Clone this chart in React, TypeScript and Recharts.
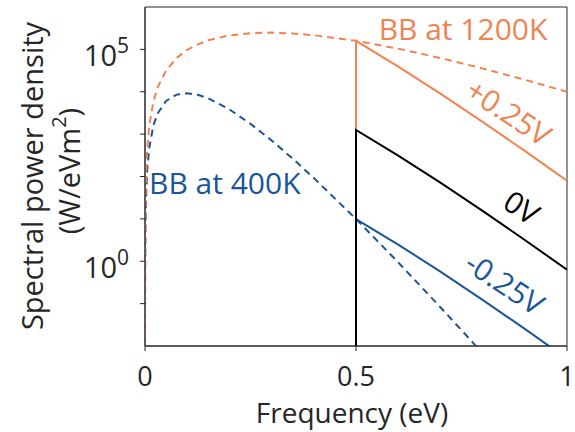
import React from 'react';
import { LineChart, Line, XAxis, YAxis, ReferenceArea } from 'recharts';

// photon energy (eV) and spectral power density (W/eVm^2)
const bbEnergy = [0.00003, 0.0001, 0.0003, 0.001, 0.002, 0.005, 0.01, 0.02, 0.03, 0.05, 0.075, 0.1, 0.125, 0.15, 0.2, 0.25, 0.3, 0.35, 0.4, 0.5, 0.6, 0.7, 0.75, 0.8, 0.9, 1.0];
const bb1200 = [0.0147, 0.164, 1.47, 16.3, 64.9, 399, 1560, 5930, 12700, 31800, 62700, 97100, 131000, 164000, 214000, 242000, 249000, 238000, 216000, 159000, 104000, 62400, 47100, 35400, 19200, 9990];
const bb400 = [0.0136, 0.0546, 0.491, 5.38, 21.2, 127, 470, 1610, 3080, 6060, 8550, 9210, 8450, 6970, 3840, 1750, 710, 264, 92.4, 9.92, 0.942, 0.0822, 0.0237, 0.00674, 0.00053, 0.00004];

const ledEnergy = [0.5, 0.5, 0.6, 0.7, 0.8, 0.9, 1.0];
const ledPlus = [0.001, 158500, 39300, 9020, 1950, 401, 79.4];
const ledZero = [0.001, 1250, 312, 71.7, 15.5, 3.18, 0.631];
const ledMinus = [9.92, 9.92, 2.48, 0.569, 0.123, 0.0253, 0.00501];

const yTicks = [0.1, 1, 10, 100, 1000, 10000, 100000];
const xTicks = [0, 0.5, 1];

const ORANGE = '#f0834f';
const BLUE = '#1a5599';
const INK = '#262626';
const FONT = '"Open Sans", sans-serif';

const toPoints = (xs: number[], ys: number[]) => xs.map((x, i) => ({ x, y: ys[i] }));

const YTick = (props: any) => {
  const { x, y, payload } = props;
  const exp = Math.round(Math.log10(payload.value));
  if (exp !== 0 && exp !== 5) return null;
  return (
    <text x={x - 9} y={y + 17} textAnchor="end" fill={INK} fontFamily={FONT} fontSize={29}>
      <tspan>10</tspan>
      <tspan dy={-13} fontSize={21}>{exp}</tspan>
    </text>
  );
};

const XTick = (props: any) => {
  const { x, y, payload } = props;
  return (
    <text x={x} y={y + 33} textAnchor="middle" fill={INK} fontFamily={FONT} fontSize={27}>
      {String(payload.value)}
    </text>
  );
};

const App: React.FC = () => {
  return (
    <div style={{ position: 'absolute', left: 0, top: 0, width: 575, height: 432 }}>
      <LineChart
        width={575}
        height={432}
        margin={{ top: 7, right: 8, left: 0, bottom: 0 }}
      >
        <XAxis
          type="number"
          dataKey="x"
          domain={[0, 1]}
          ticks={xTicks}
          height={86}
          stroke={INK}
          tickSize={5}
          tick={<XTick />}
          allowDataOverflow
        />
        <YAxis
          type="number"
          scale="log"
          domain={[0.01, 1000000]}
          ticks={yTicks}
          width={145}
          stroke={INK}
          tickSize={5}
          tick={<YTick />}
          allowDataOverflow
        />
        <ReferenceArea x1={0} x2={1} y1={0.01} y2={1000000} fill="none" stroke={INK} strokeWidth={1} />
        <Line data={toPoints(bbEnergy, bb400)} dataKey="y" stroke={BLUE} strokeWidth={2} strokeDasharray="7 5" dot={false} isAnimationActive={false} />
        <Line data={toPoints(bbEnergy, bb1200)} dataKey="y" stroke={ORANGE} strokeWidth={2} strokeDasharray="7 5" dot={false} isAnimationActive={false} />
        <Line data={toPoints(ledEnergy, ledMinus)} dataKey="y" stroke={BLUE} strokeWidth={2} dot={false} isAnimationActive={false} />
        <Line data={toPoints(ledEnergy, ledPlus)} dataKey="y" stroke={ORANGE} strokeWidth={2} dot={false} isAnimationActive={false} />
        <Line data={toPoints(ledEnergy, ledZero)} dataKey="y" stroke="#000" strokeWidth={2} dot={false} isAnimationActive={false} />
      </LineChart>
      <svg width={575} height={432} style={{ position: 'absolute', left: 0, top: 0, pointerEvents: 'none' }} fontFamily={FONT}>
        <g transform="translate(31,176) rotate(-90)">
          <text textAnchor="middle" dominantBaseline="central" fontSize={29} fill={INK}>Spectral power density</text>
        </g>
        <g transform="translate(68,171) rotate(-90)">
          <text textAnchor="middle" dominantBaseline="central" fontSize={29} fill={INK}>
            <tspan>(W/eVm</tspan>
            <tspan dy={-10} fontSize={20}>2</tspan>
            <tspan dy={10}>)</tspan>
          </text>
        </g>
        <text x={352} y={423} textAnchor="middle" fontSize={28} fill={INK}>Frequency (eV)</text>
        <text x={463} y={40} textAnchor="middle" fontSize={30} fill={ORANGE}>BB at 1200K</text>
        <text x={149} y={194} fontSize={30} fill={BLUE}>BB at 400K</text>
        <g transform="translate(509,112) rotate(33.5)">
          <text textAnchor="middle" dominantBaseline="central" fontSize={30} fill={ORANGE}>+0.25V</text>
        </g>
        <g transform="translate(522,207) rotate(33.5)">
          <text textAnchor="middle" dominantBaseline="central" fontSize={30} fill="#000">0V</text>
        </g>
        <g transform="translate(505,283) rotate(33.5)">
          <text textAnchor="middle" dominantBaseline="central" fontSize={30} fill={BLUE}>-0.25V</text>
        </g>
      </svg>
    </div>
  );
};

export default App;
